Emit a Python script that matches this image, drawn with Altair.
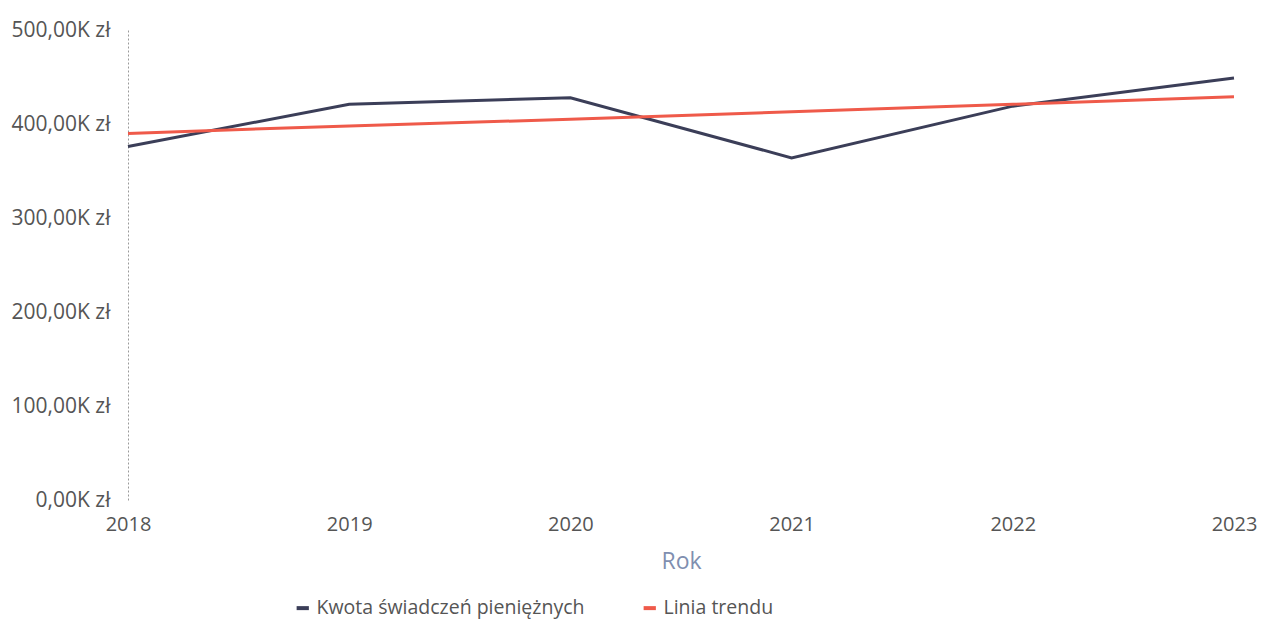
import altair as alt
import pandas as pd

years = ["2018", "2019", "2020", "2021", "2022", "2023"]
kwota = [376000, 421000, 428000, 364000, 419000, 449000]
trend = [390000, 398000, 405000, 413000, 421000, 429000]
series_names = ["Kwota świadczeń pieniężnych", "Linia trendu"]
colors = ["#3b3e58", "#ef5a4a"]
y_ticks = [0, 100000, 200000, 300000, 400000, 500000]

rows = []
for y, a, t in zip(years, kwota, trend):
    rows.append({"Rok": y, "Wartość": a, "Seria": series_names[0]})
    rows.append({"Rok": y, "Wartość": t, "Seria": series_names[1]})
df = pd.DataFrame(rows)

FONT = "Open Sans"

chart = alt.Chart(df).mark_line(strokeWidth=3).encode(
    x=alt.X("Rok:O", scale=alt.Scale(padding=0), sort=years,
            axis=alt.Axis(title="Rok", labelAngle=0, domain=False, ticks=False,
                          labelPadding=14, titlePadding=16, labelFontSize=20,
                          titleFontSize=23, titleColor="#7f8fb0", titleFontWeight="normal",
                          labelColor="#555555", labelFont=FONT, titleFont=FONT)),
    y=alt.Y("Wartość:Q", scale=alt.Scale(domain=[0, 500000]),
            axis=alt.Axis(title=None, values=y_ticks, grid=False, ticks=False,
                          domain=True, domainDash=[2, 2], domainColor="#9a9a9a",
                          labelExpr="replace(format(datum.value/1000, '.2f'), '.', ',') + 'K zł'",
                          labelPadding=18, labelFontSize=21, labelColor="#555555",
                          labelFont=FONT)),
    color=alt.Color("Seria:N", scale=alt.Scale(domain=series_names, range=colors),
                    legend=alt.Legend(title=None, orient="none", direction="horizontal",
                                      legendX=165, legendY=568, symbolType="stroke",
                                      symbolStrokeWidth=4, symbolSize=150,
                                      labelFontSize=19.5, labelColor="#555555",
                                      labelLimit=500,
                                      labelFont=FONT, columnPadding=50)),
    detail="Seria:N",
).properties(
    width=1106, height=470,
    autosize=alt.AutoSizeParams(type="none"),
    padding={"left": 120, "top": 22, "right": 24, "bottom": 122},
).configure_view(stroke=None)

chart.save("out.html", embed_options={"renderer": "svg", "actions": False})
